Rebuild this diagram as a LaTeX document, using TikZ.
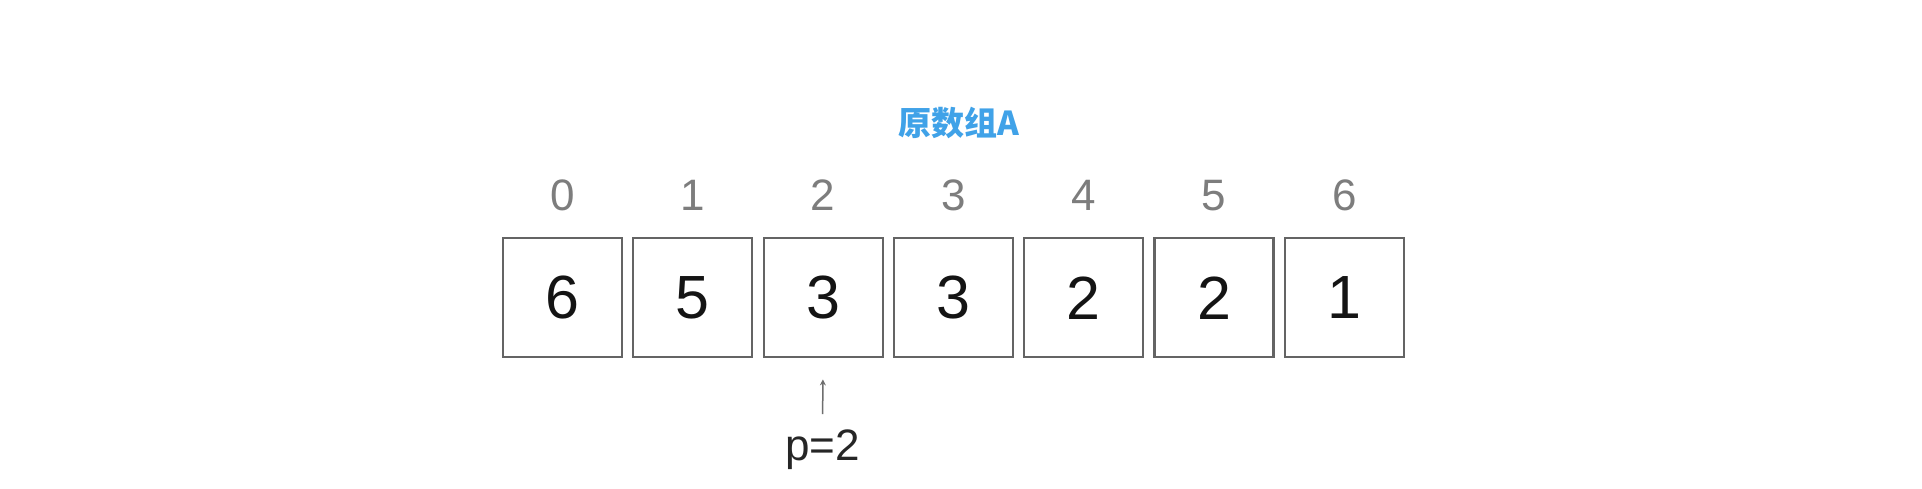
\documentclass[tikz,border=0pt]{standalone}
\usepackage{fontspec}
\setmainfont{Liberation Sans}
\newfontfamily\cjk{Noto Sans CJK SC}
\usetikzlibrary{arrows.meta}
\definecolor{titleblue}{RGB}{64,162,232}
\definecolor{idxgray}{RGB}{125,125,125}
\definecolor{boxgray}{RGB}{100,100,100}
\definecolor{ptrgray}{RGB}{110,110,110}
\tikzset{
  cell/.style={draw=boxgray, line width=2.2pt, minimum width=119pt, minimum height=119pt, inner sep=0pt,
    font=\fontsize{61}{66}\selectfont, text=black!92},
  idx/.style={anchor=base, inner sep=0pt, text=idxgray, font=\fontsize{44}{50}\selectfont},
  ptrlabel/.style={anchor=base, inner sep=0pt, text=black!85, font=\fontsize{44}{50}\selectfont},
  titlestyle/.style={inner sep=0pt, text=titleblue, font=\cjk\bfseries\fontsize{33}{38}\selectfont},
  ptr/.style={draw=ptrgray, line width=1.5pt, -{Stealth[length=6pt,width=6pt]}}
}
\begin{document}
\begin{tikzpicture}[x=1pt,y=-1pt]
\path[use as bounding box, fill=white] (0,0) rectangle (1922,488);
\node[titlestyle] (title) at (959,122.5) {原数组A};
\foreach \v [count=\i from 0] in {6,5,3,3,2,2,1} {
  \node[cell] (b\i) at ({562.5+130.3*\i},297.8) {\v};
  \node[idx] (i\i) at ({562.5+130.3*\i},210) {\i};
}
\node[ptrlabel] (p) at (822.5,460) {p=2};
\draw[ptr, shorten <=15pt, shorten >=21pt] (p.north) -- (b2.south);
\end{tikzpicture}
\end{document}
